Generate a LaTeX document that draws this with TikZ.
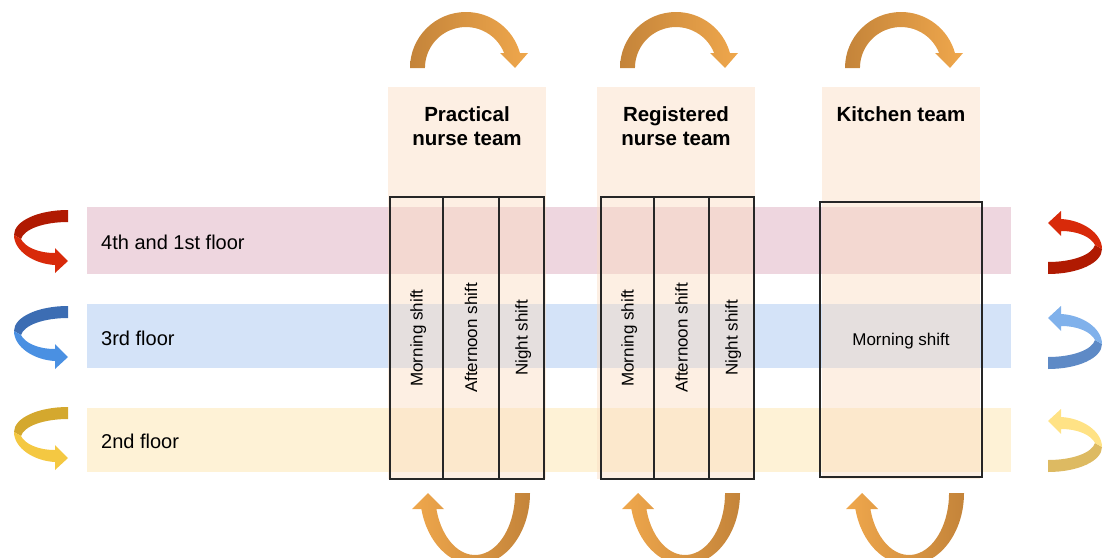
\documentclass[tikz,border=0pt]{standalone}
\usepackage{fontspec}
\setmainfont{Liberation Sans}
\definecolor{bandRed}{HTML}{EED6DF}
\definecolor{bandBlue}{HTML}{D4E3F8}
\definecolor{bandYellow}{HTML}{FEF2D6}
\definecolor{peach}{HTML}{FBDCC0}
\definecolor{orangeDark}{HTML}{C4843A}
\definecolor{orangeLight}{HTML}{EFA74C}
\definecolor{redDark}{HTML}{B01A02}
\definecolor{redBright}{HTML}{D82A0A}
\definecolor{blueDark}{HTML}{3C6DB3}
\definecolor{blueBright}{HTML}{4A90E2}
\definecolor{blueSoft}{HTML}{80B1EB}
\definecolor{blueMid}{HTML}{5E8AC6}
\definecolor{yellowDark}{HTML}{D4A82E}
\definecolor{yellowBright}{HTML}{F4C842}
\definecolor{yellowSoft}{HTML}{FFE285}
\definecolor{yellowMid}{HTML}{DDBA62}

% curled ribbon arrow centred at (#1,#2), turned by #3 degrees
\newcommand{\curlarrow}[5]{%
  \begin{scope}[shift={(#1,#2)}, rotate=#3]
    \fill[#4] (27,-31) .. controls (-3,-31) and (-27,-20) .. (-27,-6)
      -- (-20,-2) .. controls (-17,-12) and (3,-19) .. (27,-19) -- cycle;
    \fill[#5] (-27,-6) .. controls (-27,10) and (-7,23) .. (14,24)
      -- (14,32) -- (27,20) -- (14,7) -- (14,12)
      .. controls (-3,12) and (-16,6) .. (-20,-2) -- cycle;
  \end{scope}}

% arched arrow over a team, centred at x = #1
\newcommand{\overarrow}[1]{%
  \path[left color=orangeDark, right color=orangeLight]
    (#1-56,68) arc[start angle=180, end angle=15.5, radius=56pt]
    -- (#1+62,53) -- (#1+49,68) -- (#1+34,53) -- (#1+38.1,53)
    arc[start angle=21.5, end angle=180, radius=41pt] -- cycle;}

% U-shaped arrow under a team, centred at x = #1
\newcommand{\underarrow}[1]{%
  \path[left color=orangeLight, right color=orangeDark]
    (#1+55,493) arc[start angle=0, end angle=-167.16, x radius=55pt, y radius=72pt]
    -- (#1-63,509) -- (#1-47,493) -- (#1-31,509) -- (#1-38.6,509)
    arc[start angle=194.95, end angle=360, x radius=40pt, y radius=62pt] -- cycle;}

\begin{document}
\begin{tikzpicture}[x=1pt, y=-1pt,
  band/.style={fill=#1, draw=none, anchor=north west, inner sep=0pt,
    minimum width=924pt, minimum height=66pt},
  floorlabel/.style={anchor=west, inner sep=0pt, font=\fontsize{20}{24}\selectfont},
  teamcol/.style={fill=peach, fill opacity=0.45, draw=none, anchor=north west,
    inner sep=0pt, minimum width=158pt, minimum height=392pt},
  teamtitle/.style={anchor=north, inner sep=0pt, align=center,
    font=\fontsize{20.5}{24}\selectfont\bfseries},
  shiftcell/.style={draw=black!85, line width=1.2pt, rotate=90, inner sep=0pt,
    minimum width=282pt, minimum height=#1, font=\fontsize{17}{20}\selectfont},
  kitchencell/.style={draw=black!85, line width=1.2pt, inner sep=0pt,
    minimum width=162pt, minimum height=275pt, font=\fontsize{17}{20}\selectfont}]

\useasboundingbox (0,0) rectangle (1111,557);
\clip (0,0) rectangle (1111,557);

% floor bands
\node[band=bandRed, minimum height=67pt] (fourth) at (87,207) {};
\node[band=bandBlue, minimum height=64pt] (third) at (87,304) {};
\node[band=bandYellow, minimum height=64pt] (second) at (87,408) {};
\node[floorlabel] (fourthlbl) at (101,242) {4th and 1st floor};
\node[floorlabel] (thirdlbl) at (101,338) {3rd floor};
\node[floorlabel] (secondlbl) at (101,441) {2nd floor};

% team columns
\node[teamcol] (pract) at (388,87) {};
\node[teamcol] (reg) at (597,87) {};
\node[teamcol] (kitch) at (822,87) {};
\node[teamtitle] (practtitle) at (467,106.5) {Practical\\nurse team};
\node[teamtitle] (regtitle) at (676,106.5) {Registered\\nurse team};
\node[teamtitle] (kitchtitle) at (901,106.5) {Kitchen team};

% shifts
\node[shiftcell=53pt, text depth=0pt] (pmorn) at (416.5,338) {Morning shift};
\node[shiftcell=56pt, text depth=0pt] (paft) at (471,338) {Afternoon shift};
\node[shiftcell=45pt, text depth=0pt] (pnight) at (521.5,338) {Night shift};
\node[shiftcell=53pt, text depth=0pt] (rmorn) at (627.5,338) {Morning shift};
\node[shiftcell=55pt, text depth=0pt] (raft) at (681.5,338) {Afternoon shift};
\node[shiftcell=45pt, text depth=0pt] (rnight) at (731.5,338) {Night shift};
\node[kitchencell, text depth=0pt, text height=11pt] (kmorn) at (901,339.5) {Morning shift};

% rotation arrows above and below the teams
\overarrow{466}
\overarrow{676}
\overarrow{901}
\underarrow{475}
\underarrow{685}
\underarrow{909}

% rotation arrows beside the floors
\curlarrow{41}{241}{0}{redDark}{redBright}
\curlarrow{41}{337}{0}{blueDark}{blueBright}
\curlarrow{41}{438}{0}{yellowDark}{yellowBright}
\curlarrow{1075}{243}{180}{redDark}{redBright}
\curlarrow{1075}{338}{180}{blueMid}{blueSoft}
\curlarrow{1075}{441}{180}{yellowMid}{yellowSoft}
\end{tikzpicture}
\end{document}
